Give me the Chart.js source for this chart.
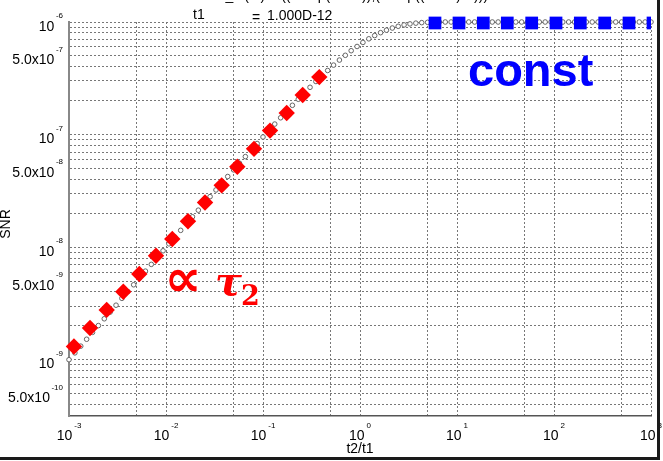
<!DOCTYPE html>
<html>
<head>
<meta charset="utf-8">
<script src="https://cdn.jsdelivr.net/npm/chart.js@4.4.0/dist/chart.umd.min.js"></script>
<style>
html, body { margin: 0; padding: 0; background: #fff; }
canvas { display: block; }
</style>
</head>
<body>
<canvas id="c" width="663" height="461"></canvas>
<script>
// Time ratio t2/t1 sampled on a log grid, and the SNR computed at each ratio
const ratioT2T1 = [
  1.000e-3, 1.150e-3, 1.322e-3, 1.520e-3, 1.748e-3, 2.009e-3, 2.310e-3, 2.656e-3, 3.054e-3, 3.511e-3,
  4.037e-3, 4.642e-3, 5.337e-3, 6.136e-3, 7.055e-3, 8.111e-3, 9.326e-3,
  1.072e-2, 1.233e-2, 1.417e-2, 1.630e-2, 1.874e-2, 2.154e-2, 2.477e-2, 2.848e-2, 3.275e-2,
  3.765e-2, 4.329e-2, 4.977e-2, 5.722e-2, 6.579e-2, 7.565e-2, 8.697e-2,
  0.1000, 0.1150, 0.1322, 0.1520, 0.1748, 0.2009, 0.2310, 0.2656, 0.3054, 0.3511,
  0.4037, 0.4642, 0.5337, 0.6136, 0.7055, 0.8111, 0.9326,
  1.072, 1.233, 1.417, 1.630, 1.874, 2.154, 2.477, 2.848, 3.275,
  3.765, 4.329, 4.977, 5.722, 6.579, 7.565, 8.697,
  10.00, 11.50, 13.22, 15.20, 17.48, 20.09, 23.10, 26.56, 30.54, 35.11,
  40.37, 46.42, 53.37, 61.36, 70.55, 81.11, 93.26,
  107.2, 123.3, 141.7, 163.0, 187.4, 215.4, 247.7, 284.8, 327.5,
  376.5, 432.9, 497.7, 572.2, 657.9, 756.5, 869.7,
  1000
];
const snrCurve = [
  1.00e-9, 1.15e-9, 1.32e-9, 1.52e-9, 1.75e-9, 2.01e-9, 2.31e-9, 2.65e-9, 3.05e-9, 3.51e-9,
  4.03e-9, 4.63e-9, 5.32e-9, 6.12e-9, 7.03e-9, 8.08e-9, 9.28e-9,
  1.07e-8, 1.23e-8, 1.41e-8, 1.62e-8, 1.86e-8, 2.13e-8, 2.45e-8, 2.81e-8, 3.22e-8,
  3.69e-8, 4.24e-8, 4.86e-8, 5.56e-8, 6.37e-8, 7.29e-8, 8.33e-8,
  9.52e-8, 1.09e-7, 1.24e-7, 1.41e-7, 1.60e-7, 1.82e-7, 2.06e-7, 2.33e-7, 2.63e-7, 2.96e-7,
  3.32e-7, 3.71e-7, 4.14e-7, 4.59e-7, 5.06e-7, 5.56e-7, 6.06e-7,
  6.58e-7, 7.09e-7, 7.58e-7, 8.04e-7, 8.46e-7, 8.84e-7, 9.16e-7, 9.42e-7, 9.62e-7,
  9.77e-7, 9.87e-7, 9.93e-7, 9.97e-7, 9.99e-7, 1.00e-6, 1.00e-6,
  1.00e-6, 1.00e-6, 1.00e-6, 1.00e-6, 1.00e-6, 1.00e-6, 1.00e-6, 1.00e-6, 1.00e-6, 1.00e-6,
  1.00e-6, 1.00e-6, 1.00e-6, 1.00e-6, 1.00e-6, 1.00e-6, 1.00e-6,
  1.00e-6, 1.00e-6, 1.00e-6, 1.00e-6, 1.00e-6, 1.00e-6, 1.00e-6, 1.00e-6, 1.00e-6,
  1.00e-6, 1.00e-6, 1.00e-6, 1.00e-6, 1.00e-6, 1.00e-6, 1.00e-6,
  1.00e-6
];

// Linear (proportional to tau2) guide in the short-time regime
const propX = [1.125e-3, 1.646e-3, 2.447e-3, 3.630e-3, 5.305e-3, 7.885e-3, 1.161e-2, 1.685e-2,
               2.525e-2, 3.751e-2, 5.433e-2, 8.075e-2, 0.1181, 0.1755, 0.2566, 0.3805];
const propSNR = [1.31e-9, 1.91e-9, 2.77e-9, 4.02e-9, 5.77e-9, 8.38e-9, 1.18e-8, 1.70e-8,
                 2.49e-8, 3.54e-8, 5.18e-8, 7.47e-8, 1.085e-7, 1.556e-7, 2.245e-7, 3.24e-7];

// Constant plateau guide in the long-time regime
const constX = [5.93, 10.49, 18.67, 33.0, 58.9, 104.9, 186.7, 333.2, 593.3, 1049];
const constSNR = [9.8e-7, 9.8e-7, 9.8e-7, 9.8e-7, 9.8e-7, 9.8e-7, 9.8e-7, 9.8e-7, 9.8e-7, 9.8e-7];

// Axis tick labels (mantissa text + exponent superscript)
const xLabelValues = [1e-3, 1e-2, 1e-1, 1, 10, 100, 1000];
const xLabelExps = ['-3', '-2', '-1', '0', '1', '2', '3'];
const yLabelValues = [1e-6, 5e-7, 1e-7, 5e-8, 1e-8, 5e-9, 1e-9, 5e-10];
const yLabelBases = ['10', '5.0x10', '10', '5.0x10', '10', '5.0x10', '10', '5.0x10'];
const yLabelExps = ['-6', '-7', '-7', '-8', '-8', '-9', '-9', '-10'];

// Grid positions: decades and 5x on the ratio axis, every integer multiple on the SNR axis
const xGridValues = [1e-3, 5e-3, 1e-2, 5e-2, 1e-1, 5e-1, 1, 5, 10, 50, 100, 500, 1000];
const yGridMantissas = [1, 2, 3, 4, 5, 6, 7, 8, 9];
const yGridDecades = [1e-10, 1e-9, 1e-8, 1e-7, 1e-6];

const FONT = '"Liberation Sans", Arial, Helvetica, sans-serif';

const decorations = {
  id: 'decorations',
  beforeDraw(chart) {
    const ctx = chart.ctx;
    ctx.save();
    ctx.fillStyle = '#ffffff';
    ctx.fillRect(0, 0, chart.width, chart.height);
    ctx.restore();
  },
  afterDraw(chart) {
    const { ctx, scales: { x, y } } = chart;
    ctx.save();
    ctx.fillStyle = '#000';
    ctx.textBaseline = 'alphabetic';

    // SNR tick labels, right aligned against the axis
    yLabelValues.forEach((v, i) => {
      const py = y.getPixelForValue(v);
      ctx.textAlign = 'right';
      ctx.font = '8px ' + FONT;
      const supW = ctx.measureText(yLabelExps[i]).width;
      ctx.fillText(yLabelExps[i], 63, py - 4);
      ctx.font = '14px ' + FONT;
      ctx.fillText(yLabelBases[i], 63 - supW - 1.5, py + 8.5);
    });

    // ratio tick labels, centred under each decade
    xLabelValues.forEach((v, i) => {
      const px = x.getPixelForValue(v);
      ctx.font = '14px ' + FONT;
      const w1 = ctx.measureText('10').width;
      ctx.font = '8px ' + FONT;
      const w2 = ctx.measureText(xLabelExps[i]).width;
      const start = px - (w1 + 2 + w2) / 2;
      ctx.textAlign = 'left';
      ctx.font = '14px ' + FONT;
      ctx.fillText('10', start, 439.5);
      ctx.font = '8px ' + FONT;
      ctx.fillText(xLabelExps[i], start + w1 + 2, 428);
    });

    // axis titles
    ctx.font = '14px ' + FONT;
    ctx.textAlign = 'center';
    ctx.fillText('t2/t1', (x.left + x.right) / 2, 453);
    ctx.save();
    ctx.translate(10, 224);
    ctx.rotate(-Math.PI / 2);
    ctx.fillText('SNR', 0, 0);
    ctx.restore();

    // header lines
    ctx.textAlign = 'left';
    ctx.font = '14px ' + FONT;
    ctx.fillText('SNR_ts(t2) = ((1-exp(-t2/t1)),(1-exp((-t2/t1)*2)))', 196, -0.5);
    ctx.fillText('t1', 193, 19);
    ctx.fillText('=', 252, 22);
    ctx.fillText('1.000D-12', 267, 20);

    // regime annotations
    ctx.fillStyle = '#ff0000';
    ctx.textAlign = 'center';
    ctx.textBaseline = 'middle';
    ctx.font = 'bold 52px "DejaVu Sans", sans-serif';
    ctx.fillText('\u221D', 183, 282);
    ctx.textAlign = 'left';
    ctx.textBaseline = 'alphabetic';
    ctx.font = 'bold italic 40px "DejaVu Serif", serif';
    ctx.fillText('\u03C4', 215, 295);
    ctx.font = 'bold 27px "DejaVu Serif", serif';
    ctx.fillText('2', 241, 305);

    ctx.fillStyle = '#0000ff';
    ctx.font = 'bold 47px ' + FONT;
    ctx.fillText('const', 468, 86);

    // frame edges
    ctx.fillStyle = '#1a1a1a';
    ctx.fillRect(657, 0, 3, 460);
    ctx.fillRect(0, 457, 660, 3);
    ctx.restore();
  }
};

const toPoints = (xs, ys) => xs.map((v, i) => ({ x: v, y: ys[i] }));

new Chart(document.getElementById('c'), {
  type: 'scatter',
  data: {
    datasets: [
      {
        label: 'const',
        data: toPoints(constX, constSNR),
        pointStyle: 'rect',
        pointRadius: 9,
        backgroundColor: '#0000ff',
        borderColor: '#0000ff',
        borderWidth: 0,
        clip: { left: 20, top: 20, right: 0, bottom: 20 }
      },
      {
        label: 'proportional',
        data: toPoints(propX, propSNR),
        pointStyle: 'rectRot',
        pointRadius: 8.2,
        backgroundColor: '#ff0000',
        borderColor: '#ff0000',
        borderWidth: 0,
        clip: false
      },
      {
        label: 'SNR',
        data: toPoints(ratioT2T1, snrCurve),
        pointStyle: 'circle',
        pointRadius: 2.3,
        backgroundColor: '#ffffff',
        borderColor: '#666666',
        borderWidth: 1,
        clip: false
      }
    ]
  },
  options: {
    responsive: false,
    animation: false,
    devicePixelRatio: 1,
    events: [],
    layout: { padding: { left: 69, right: 12, top: 22, bottom: 45 } },
    plugins: { legend: { display: false }, tooltip: { enabled: false } },
    scales: {
      x: {
        type: 'logarithmic',
        min: 1e-3,
        max: 1e3,
        afterBuildTicks: (s) => { s.ticks = xGridValues.map(v => ({ value: v })); },
        ticks: { display: false },
        grid: { color: '#777777', lineWidth: 1, drawTicks: false },
        border: { display: true, color: '#555555', width: 1.5, dash: [2, 2] }
      },
      y: {
        type: 'logarithmic',
        min: 3.162e-10,
        max: 1e-6,
        afterBuildTicks: (s) => {
          const t = [];
          yGridDecades.forEach(d => yGridMantissas.forEach(m => {
            const v = m * d;
            if (v >= s.min * 1.0001 && v <= s.max * 1.0001) t.push({ value: v });
          }));
          s.ticks = t;
        },
        ticks: { display: false },
        grid: { color: '#777777', lineWidth: 1, drawTicks: false },
        border: { display: true, color: '#888888', width: 2, dash: [2, 2] }
      }
    }
  },
  plugins: [decorations]
});
</script>
</body>
</html>
